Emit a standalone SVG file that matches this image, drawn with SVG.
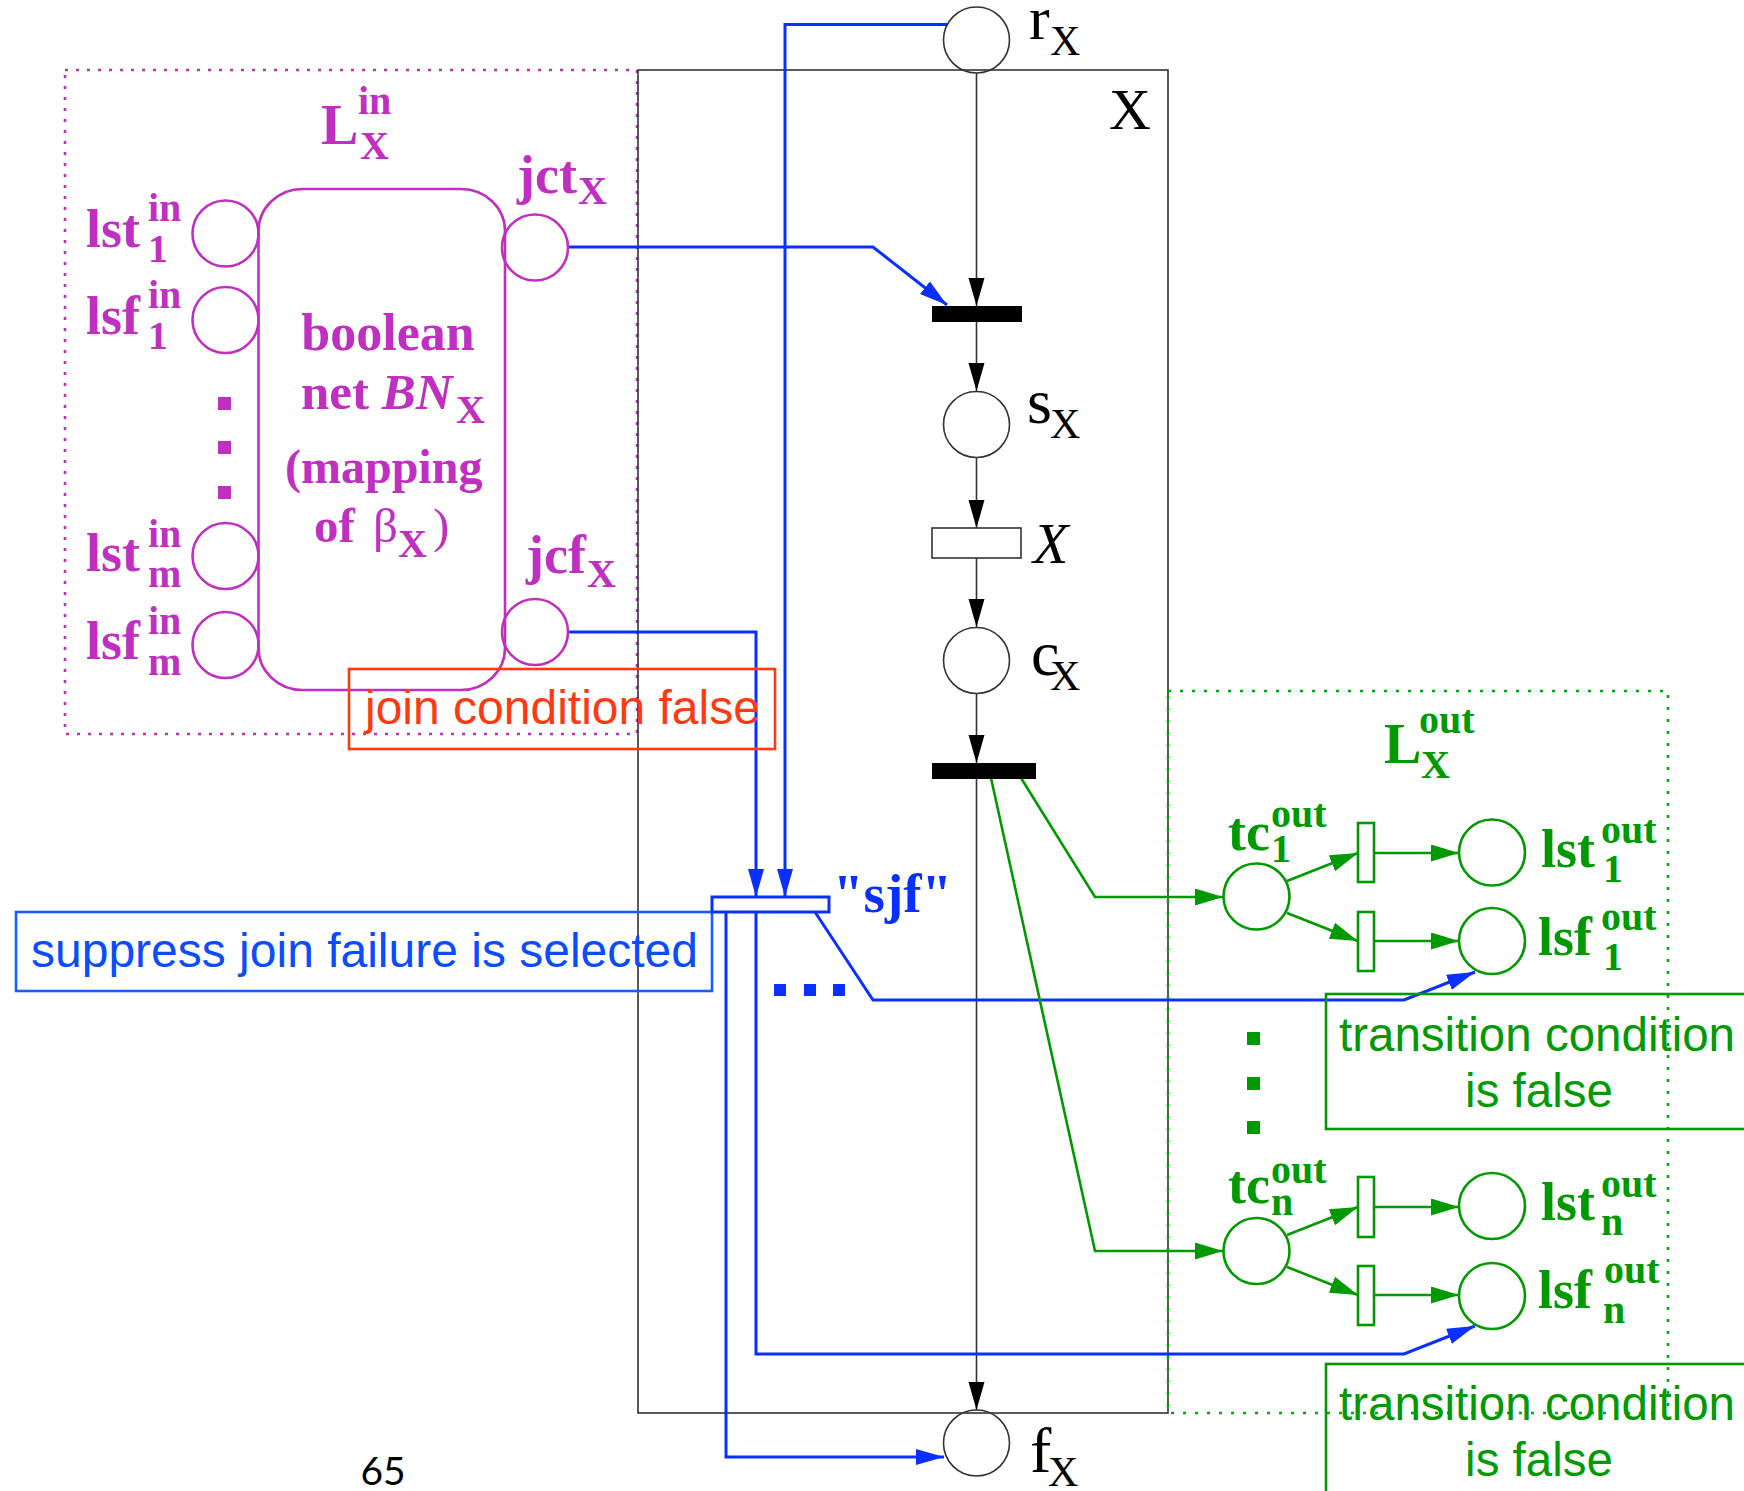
<svg xmlns="http://www.w3.org/2000/svg" width="1744" height="1491" viewBox="0 0 1744 1491">
<defs>
<style>
.blk{fill:none;stroke:#333;stroke-width:1.6}
.blkf{fill:#000;stroke:none}
.mg{fill:none;stroke:#c030c0;stroke-width:2.6}
.mgt{fill:#c030c0;font-family:"Liberation Serif",serif;font-weight:bold}
.gr{fill:none;stroke:#009900;stroke-width:2.6}
.grt{fill:#009900;font-family:"Liberation Serif",serif;font-weight:bold}
.bl{fill:none;stroke:#0a30ff;stroke-width:3}
.bt{fill:#000;font-family:"Liberation Serif",serif}
.sans{font-family:"Liberation Sans",Arial,sans-serif}
.nw{font-weight:normal}
</style>
<marker id="ak" markerUnits="userSpaceOnUse" markerWidth="30" markerHeight="18" refX="28" refY="8" orient="auto"><path d="M0,0 L28,8 L0,16 z" fill="#000"/></marker>
<marker id="ab" markerUnits="userSpaceOnUse" markerWidth="30" markerHeight="18" refX="28" refY="8" orient="auto"><path d="M0,0 L28,8 L0,16 z" fill="#0a30ff"/></marker>
<marker id="ag" markerUnits="userSpaceOnUse" markerWidth="30" markerHeight="18" refX="28" refY="8.5" orient="auto"><path d="M0,0 L28,8.5 L0,17 z" fill="#009900"/></marker>
</defs>
<rect width="1744" height="1491" fill="#fff"/>

<!-- regions -->
<g id="region-Lin">
<rect x="65" y="70" width="572" height="664" fill="none" stroke="#c030c0" stroke-width="2.6" stroke-dasharray="3 8"/>
</g>
<g id="region-X">
<rect x="638" y="70" width="530" height="1343" fill="none" stroke="#333" stroke-width="1.6"/>
<text class="bt" x="1109" y="129" font-size="58">X</text>
</g>
<g id="region-Lout">
<rect x="1168" y="691" width="500" height="722" fill="none" stroke="#00aa00" stroke-width="2.6" stroke-dasharray="3 9"/>
</g>

<!-- connectors -->
<g id="connectors">
<line class="blk" x1="976.5" y1="73" x2="976.5" y2="306" marker-end="url(#ak)"/>
<line class="blk" x1="976.5" y1="322" x2="976.5" y2="391" marker-end="url(#ak)"/>
<line class="blk" x1="976.5" y1="458" x2="976.5" y2="528" marker-end="url(#ak)"/>
<line class="blk" x1="976.5" y1="558" x2="976.5" y2="627" marker-end="url(#ak)"/>
<line class="blk" x1="976.5" y1="694" x2="976.5" y2="763" marker-end="url(#ak)"/>
<line class="blk" x1="976.5" y1="779" x2="976.5" y2="1410" marker-end="url(#ak)"/>

<polyline class="bl" points="947,24.5 785,24.5 785,897" marker-end="url(#ab)"/>
<polyline class="bl" points="568,247 873,247 947,305" marker-end="url(#ab)"/>
<polyline class="bl" points="568,632 756,632 756,897" marker-end="url(#ab)"/>
<polyline class="bl" points="726,912 726,1457 944,1457" marker-end="url(#ab)"/>
<polyline class="bl" points="756,912 756,1354 1404,1354 1475,1326" marker-end="url(#ab)"/>
<polyline class="bl" points="815,912 873,1000 1404,1000 1475,972" marker-end="url(#ab)"/>

<polyline class="gr" points="1021,778 1095,897 1223,897" marker-end="url(#ag)"/>
<polyline class="gr" points="991,778 1095,1251 1223,1251" marker-end="url(#ag)"/>
<line class="gr" x1="1287" y1="881" x2="1358" y2="853" marker-end="url(#ag)"/>
<line class="gr" x1="1287" y1="913" x2="1358" y2="941" marker-end="url(#ag)"/>
<line class="gr" x1="1374" y1="853" x2="1459" y2="853" marker-end="url(#ag)"/>
<line class="gr" x1="1374" y1="941" x2="1459" y2="941" marker-end="url(#ag)"/>
<line class="gr" x1="1287" y1="1235" x2="1358" y2="1207" marker-end="url(#ag)"/>
<line class="gr" x1="1287" y1="1267" x2="1358" y2="1295" marker-end="url(#ag)"/>
<line class="gr" x1="1374" y1="1207" x2="1459" y2="1207" marker-end="url(#ag)"/>
<line class="gr" x1="1374" y1="1295" x2="1459" y2="1295" marker-end="url(#ag)"/>
</g>

<!-- X process nodes -->
<g id="node-rX">
<circle class="blk" cx="976.5" cy="40" r="33" fill="#fff"/>
<text class="bt" x="1029" y="39" font-size="62">r</text>
<text class="bt" x="1050" y="55" font-size="42">X</text>
</g>
<g id="node-t1"><rect class="blkf" x="932" y="306" width="90" height="16"/></g>
<g id="node-sX">
<circle class="blk" cx="976.5" cy="424.5" r="33"/>
<text class="bt" x="1027" y="423" font-size="64">s</text>
<text class="bt" x="1050" y="438" font-size="42">X</text>
</g>
<g id="node-Xtrans">
<rect class="blk" x="932" y="528" width="89" height="30" fill="#fff"/>
<text class="bt" x="1033" y="563" font-size="58" font-style="italic">X</text>
</g>
<g id="node-cX">
<circle class="blk" cx="976.5" cy="660.5" r="33"/>
<text class="bt" x="1031" y="675" font-size="64">c</text>
<text class="bt" x="1050" y="690" font-size="42">X</text>
</g>
<g id="node-t2"><rect class="blkf" x="932" y="763" width="104" height="16"/></g>
<g id="node-fX">
<circle class="blk" cx="976.5" cy="1443" r="33" fill="#fff"/>
<text class="bt" x="1030" y="1472" font-size="64">f</text>
<text class="bt" x="1048" y="1486" font-size="42">X</text>
</g>

<!-- L in -->
<g id="label-Lin">
<text class="mgt" x="321" y="144" font-size="56">L</text>
<text class="mgt" x="358" y="114" font-size="40">in</text>
<text class="mgt" x="360" y="159" font-size="40">X</text>
</g>
<g id="node-BN">
<rect class="mg" x="258.5" y="189" width="246.5" height="501" rx="44" ry="42"/>
<text class="mgt" x="388" y="350" font-size="52" text-anchor="middle">boolean</text>
<text class="mgt" x="301" y="409" font-size="51">net <tspan font-style="italic">BN</tspan></text>
<text class="mgt" x="456" y="423" font-size="40">X</text>
<text class="mgt" x="285" y="483" font-size="48">(mapping</text>
<text class="mgt" x="314" y="542" font-size="49">of</text>
<text class="mgt nw" x="373" y="542" font-size="49">β</text>
<text class="mgt" x="398" y="557" font-size="40">X</text>
<text class="mgt nw" x="433" y="542" font-size="49">)</text>
</g>
<g id="node-lst1in">
<circle class="mg" cx="225.5" cy="233.5" r="33"/>
<text class="mgt" x="86" y="247" font-size="54">lst</text>
<text class="mgt" x="148" y="221" font-size="40">in</text>
<text class="mgt" x="148" y="262" font-size="40">1</text>
</g>
<g id="node-lsf1in">
<circle class="mg" cx="225.5" cy="320" r="33"/>
<text class="mgt" x="86" y="334" font-size="54">lsf</text>
<text class="mgt" x="148" y="308" font-size="40">in</text>
<text class="mgt" x="148" y="349" font-size="40">1</text>
</g>
<g id="dots-in">
<rect x="218" y="397" width="13" height="13" fill="#c030c0"/>
<rect x="218" y="441" width="13" height="13" fill="#c030c0"/>
<rect x="218" y="486" width="13" height="13" fill="#c030c0"/>
</g>
<g id="node-lstmin">
<circle class="mg" cx="225.5" cy="556" r="33"/>
<text class="mgt" x="86" y="571" font-size="54">lst</text>
<text class="mgt" x="148" y="547" font-size="40">in</text>
<text class="mgt" x="148" y="587" font-size="40">m</text>
</g>
<g id="node-lsfmin">
<circle class="mg" cx="225.5" cy="645" r="33"/>
<text class="mgt" x="86" y="659" font-size="54">lsf</text>
<text class="mgt" x="148" y="634" font-size="40">in</text>
<text class="mgt" x="148" y="675" font-size="40">m</text>
</g>
<g id="node-jct">
<circle class="mg" cx="535" cy="247.5" r="33"/>
<text class="mgt" x="517" y="193" font-size="54">jct</text>
<text class="mgt" x="578" y="204" font-size="40">X</text>
</g>
<g id="node-jcf">
<circle class="mg" cx="535" cy="632" r="33"/>
<text class="mgt" x="526" y="573" font-size="54">jcf</text>
<text class="mgt" x="587" y="587" font-size="40">X</text>
</g>
<g id="note-jcf">
<rect x="349" y="669" width="426" height="80" fill="none" stroke="#ff3a12" stroke-width="2.6"/>
<text class="sans" x="365" y="724" font-size="48" fill="#ff3a12">join condition false</text>
</g>

<!-- sjf -->
<g id="note-sjf">
<rect x="16" y="912" width="696" height="79" fill="none" stroke="#1a5cff" stroke-width="2.6"/>
<text class="sans" x="31" y="967" font-size="48" fill="#0a4cff">suppress join failure is selected</text>
</g>
<g id="node-sjf">
<rect x="712" y="897" width="117" height="15" fill="#fff" stroke="#0a30ff" stroke-width="3"/>
<text x="833" y="912" font-family="Liberation Serif,serif" font-weight="bold" font-size="55" fill="#0a30ff">"sjf"</text>
</g>
<g id="dots-sjf">
<rect x="774" y="984" width="12" height="12" fill="#0a30ff"/>
<rect x="804" y="984" width="12" height="12" fill="#0a30ff"/>
<rect x="833" y="984" width="12" height="12" fill="#0a30ff"/>
</g>

<!-- L out -->
<g id="label-Lout">
<text class="grt" x="1384" y="763" font-size="56">L</text>
<text class="grt" x="1419" y="733" font-size="40">out</text>
<text class="grt" x="1421" y="778" font-size="40">X</text>
</g>
<g id="node-tc1">
<circle class="gr" cx="1256.5" cy="896.5" r="33"/>
<text class="grt" x="1228" y="850" font-size="54">tc</text>
<text class="grt" x="1271" y="827" font-size="40">out</text>
<text class="grt" x="1271" y="862" font-size="40">1</text>
</g>
<g id="node-t-lst1"><rect class="gr" x="1358" y="823" width="16" height="59"/></g>
<g id="node-t-lsf1"><rect class="gr" x="1358" y="912" width="16" height="59"/></g>
<g id="node-lst1out">
<circle class="gr" cx="1492" cy="852.5" r="33"/>
<text class="grt" x="1541" y="867" font-size="54">lst</text>
<text class="grt" x="1601" y="843" font-size="40">out</text>
<text class="grt" x="1603" y="882" font-size="40">1</text>
</g>
<g id="node-lsf1out">
<circle class="gr" cx="1492" cy="941" r="33"/>
<text class="grt" x="1538" y="955" font-size="54">lsf</text>
<text class="grt" x="1601" y="930" font-size="40">out</text>
<text class="grt" x="1603" y="970" font-size="40">1</text>
</g>
<g id="dots-out">
<rect x="1247" y="1032" width="13" height="13" fill="#009900"/>
<rect x="1247" y="1077" width="13" height="13" fill="#009900"/>
<rect x="1247" y="1121" width="13" height="13" fill="#009900"/>
</g>
<g id="note-tc1">
<rect x="1326" y="994" width="430" height="135" fill="none" stroke="#009900" stroke-width="2.6"/>
<text class="sans" x="1537" y="1051" font-size="47.5" fill="#009900" text-anchor="middle">transition condition</text>
<text class="sans" x="1539" y="1107" font-size="47.5" fill="#009900" text-anchor="middle">is false</text>
</g>
<g id="node-tcn">
<circle class="gr" cx="1256.5" cy="1251" r="33"/>
<text class="grt" x="1228" y="1203" font-size="54">tc</text>
<text class="grt" x="1271" y="1183" font-size="40">out</text>
<text class="grt" x="1271" y="1215" font-size="40">n</text>
</g>
<g id="node-t-lstn"><rect class="gr" x="1358" y="1177" width="16" height="60"/></g>
<g id="node-t-lsfn"><rect class="gr" x="1358" y="1266" width="16" height="59"/></g>
<g id="node-lstnout">
<circle class="gr" cx="1492" cy="1206" r="33"/>
<text class="grt" x="1541" y="1220" font-size="54">lst</text>
<text class="grt" x="1601" y="1197" font-size="40">out</text>
<text class="grt" x="1601" y="1235" font-size="40">n</text>
</g>
<g id="node-lsfnout">
<circle class="gr" cx="1492" cy="1296" r="33"/>
<text class="grt" x="1538" y="1308" font-size="54">lsf</text>
<text class="grt" x="1604" y="1283" font-size="40">out</text>
<text class="grt" x="1603" y="1323" font-size="40">n</text>
</g>
<g id="note-tcn">
<rect x="1326" y="1364" width="430" height="140" fill="none" stroke="#009900" stroke-width="2.6"/>
<text class="sans" x="1537" y="1420" font-size="47.5" fill="#009900" text-anchor="middle">transition condition</text>
<text class="sans" x="1539" y="1476" font-size="47.5" fill="#009900" text-anchor="middle">is false</text>
</g>

<text x="383" y="1485" font-family="Lato,sans-serif" font-size="39" fill="#000" text-anchor="middle">65</text>
</svg>
